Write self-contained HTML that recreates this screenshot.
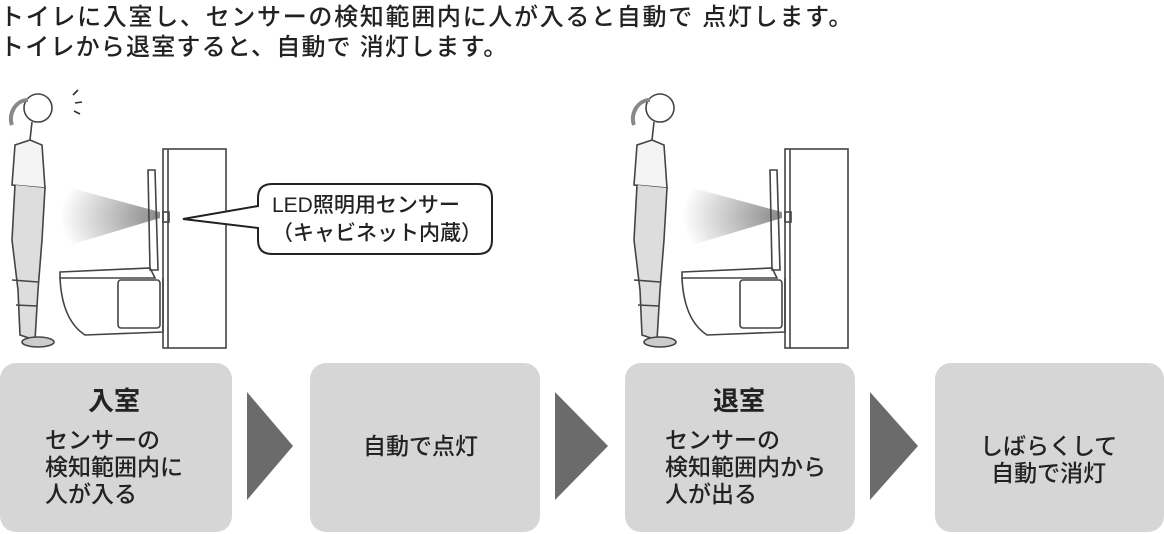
<!DOCTYPE html>
<html><head><meta charset="utf-8"><style>
body{margin:0;width:1164px;height:534px;background:#fff;position:relative;overflow:hidden;font-family:"Liberation Sans","Noto Sans CJK JP",sans-serif;color:#222}
.h{position:absolute;left:0;font-size:24px;letter-spacing:1.7px;line-height:29px;white-space:nowrap;font-weight:500}
.box{position:absolute;top:363px;height:169px;background:#d6d6d6;border-radius:16px}
.t{position:absolute;font-size:23px;line-height:27px;white-space:nowrap;font-weight:500}
.b{font-weight:bold;font-size:26px}
</style></head><body>
<div class="h" style="top:3px">トイレに入室し、センサーの検知範囲内に人が入ると自動で 点灯します。</div>
<div class="h" style="top:33px;letter-spacing:1.2px">トイレから退室すると、自動で 消灯します。</div>
<svg width="1164" height="534" style="position:absolute;left:0;top:0" fill="none" stroke="#444" stroke-width="1.6">
<defs><radialGradient id="g" cx="1" cy="0.5" r="1"><stop offset="0" stop-color="#555"/><stop offset="1" stop-color="#fff"/></radialGradient></defs>
<g id="scene">
<circle cx="38" cy="108" r="14"/>
<path d="M28 100 C15 100 8 115 12 125" stroke="#888" stroke-width="4"/>
<path d="M32 122 L30 140 L15 145 L12 185 L45 188 L42 145 L30 140" fill="#f4f4f4"/>
<path d="M15 185 L12 240 L18 290 L20 335 L35 340 L38 290 L42 240 L45 188" fill="#ddd"/>
<path d="M12 280 L38 282 M16 305 L37 306"/>
<ellipse cx="38" cy="342" rx="16" ry="5" fill="#ccc"/>
<path d="M60 185 L160 212 L160 218 L60 248 Z" fill="url(#g)" stroke="none" opacity="0.7"/>
<path d="M148 170 L155 170 L158 270 L150 270 Z"/>
<path d="M60 272 L150 268 L155 278 L60 278 Z"/>
<path d="M60 278 Q62 320 85 335 L163 332 L163 278"/>
<rect x="118" y="280" width="42" height="48" rx="3"/>
<rect x="163" y="149" width="63" height="199"/>
<line x1="168" y1="149" x2="168" y2="348"/>
<rect x="163" y="212" width="6" height="10"/>
</g>
<use href="#scene" transform="translate(622,0)"/>
<path d="M272 184 H478 Q492 184 492 198 V240 Q492 254 478 254 H272 Q258 254 258 240 V228 L183 219 L258 206 V198 Q258 184 272 184 Z" stroke="#222" stroke-width="2" fill="#fff"/>
<path d="M73 95 L78 90 M75 103 L82 102 M74 111 L80 114" stroke="#333"/>
<polygon points="247,392 293,446 247,500" fill="#6b6b6b" stroke="none"/>
<polygon points="555,392 608,446 555,500" fill="#6b6b6b" stroke="none"/>
<polygon points="870,392 918,446 870,500" fill="#6b6b6b" stroke="none"/>
</svg>
<div class="t" style="left:272px;top:192px;font-size:21px;line-height:28px">LED照明用センサー<br>（キャビネット内蔵）</div>
<div class="box" style="left:0;width:232px"></div>
<div class="box" style="left:310px;width:230px"></div>
<div class="box" style="left:625px;width:230px"></div>
<div class="box" style="left:935px;width:229px"></div>
<div class="t b" style="left:88px;top:388px">入室</div>
<div class="t" style="left:45px;top:427px">センサーの<br>検知範囲内に<br>人が入る</div>
<div class="t" style="left:363px;top:433px">自動で点灯</div>
<div class="t b" style="left:713px;top:388px">退室</div>
<div class="t" style="left:665px;top:427px">センサーの<br>検知範囲内から<br>人が出る</div>
<div class="t" style="left:980px;top:433px;text-align:center">しばらくして<br>自動で消灯</div>
</body></html>
